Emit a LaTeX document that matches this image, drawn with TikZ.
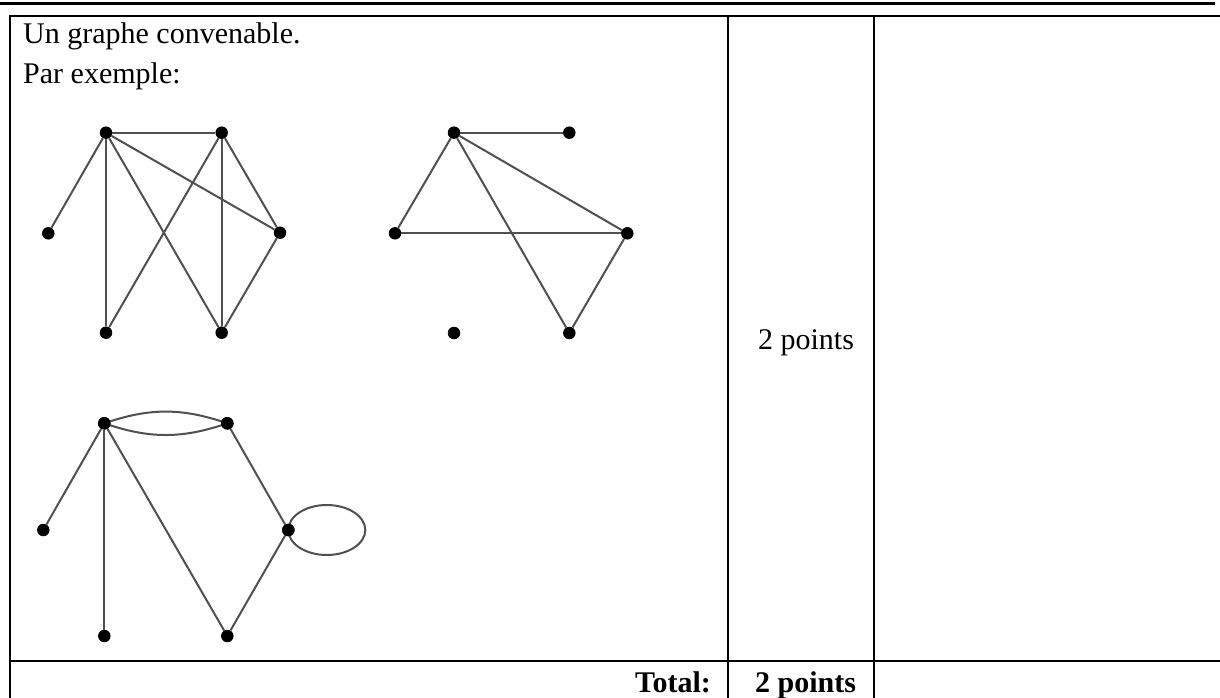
\documentclass[tikz,border=0pt]{standalone}
\usepackage{fontspec}
\setmainfont{Liberation Serif}
\begin{document}
\begin{tikzpicture}[x=1pt,y=-1pt,
  vtx/.style={circle,fill=black,inner sep=0pt,minimum size=12.5pt},
  edge/.style={line width=2pt,draw={rgb,255:red,80;green,80;blue,80}},
  rule/.style={line width=2pt,draw=black},
  txt/.style={inner sep=0pt,font=\fontsize{30}{36}\selectfont},
  btxt/.style={inner sep=0pt,font=\fontsize{30}{36}\selectfont\bfseries}]
\useasboundingbox (0,0) rectangle (1220,698);
% rules
\coordinate (tl0) at (0,3.3); \coordinate (tr0) at (1215,3.3);
\draw[line width=3.3pt] (tl0) -- (tr0);
\coordinate (t1) at (9,16); \coordinate (t2) at (1220,16);
\draw[rule] (t1) -- (t2);
\coordinate (l1) at (10,16); \coordinate (l2) at (10,698);
\draw[rule] (l1) -- (l2);
\coordinate (c1a) at (727.8,16); \coordinate (c1b) at (727.8,698);
\draw[rule] (c1a) -- (c1b);
\coordinate (c2a) at (873.7,16); \coordinate (c2b) at (873.7,698);
\draw[rule] (c2a) -- (c2b);
\coordinate (r1) at (9,661); \coordinate (r2) at (1220,661);
\draw[rule] (r1) -- (r2);
% texts
\node[txt,anchor=base west] (line1) at (23,44) {Un graphe convenable.};
\node[txt,anchor=base west] (line2) at (23,84) {Par exemple:};
\node[txt,anchor=base] (pts) at (806,349) {2 points};
\node[btxt,anchor=base east] (tot) at (711,692) {Total:};
\node[btxt,anchor=base] (totpts) at (805.5,692) {2 points};
% graph 1
\node[vtx] (A) at (106,132.7) {};
\node[vtx] (B) at (221.7,132.7) {};
\node[vtx] (C) at (48.3,233.3) {};
\node[vtx] (D) at (280,232.7) {};
\node[vtx] (E) at (106,332.7) {};
\node[vtx] (F) at (221.7,332.7) {};
\draw[edge] (A) -- (B);
\draw[edge] (A) -- (C);
\draw[edge] (A) -- (E);
\draw[edge] (A) -- (F);
\draw[edge] (A) -- (D);
\draw[edge] (B) -- (E);
\draw[edge] (B) -- (F);
\draw[edge] (B) -- (D);
\draw[edge] (D) -- (F);
% graph 2
\node[vtx] (P) at (454,132.7) {};
\node[vtx] (Q) at (569.3,132.7) {};
\node[vtx] (R) at (395,233.3) {};
\node[vtx] (S) at (627.3,233.3) {};
\node[vtx] (T) at (454,333) {};
\node[vtx] (U) at (569.3,333) {};
\draw[edge] (P) -- (Q);
\draw[edge] (P) -- (R);
\draw[edge] (P) -- (S);
\draw[edge] (P) -- (U);
\draw[edge] (R) -- (S);
\draw[edge] (S) -- (U);
% graph 3
\node[vtx] (G) at (104.3,423.3) {};
\node[vtx] (H) at (227.3,423.3) {};
\node[vtx] (I) at (43.3,530) {};
\node[vtx] (J) at (288.3,530) {};
\node[vtx] (K) at (104.3,636) {};
\node[vtx] (L) at (227.3,636) {};
\draw[edge] (G.center) to[bend right=19] (H.center);
\draw[edge] (G.center) to[bend left=19] (H.center);
\draw[edge] (G) -- (I);
\draw[edge] (G) -- (K);
\draw[edge] (G) -- (L);
\draw[edge] (H) -- (J);
\draw[edge] (J) -- (L);
\draw[edge] (J.center) arc[start angle=180,delta angle=360,x radius=38.5,y radius=25];
\node[vtx] at (G) {};
\node[vtx] at (H) {};
\node[vtx] at (J) {};
\end{tikzpicture}
\end{document}
